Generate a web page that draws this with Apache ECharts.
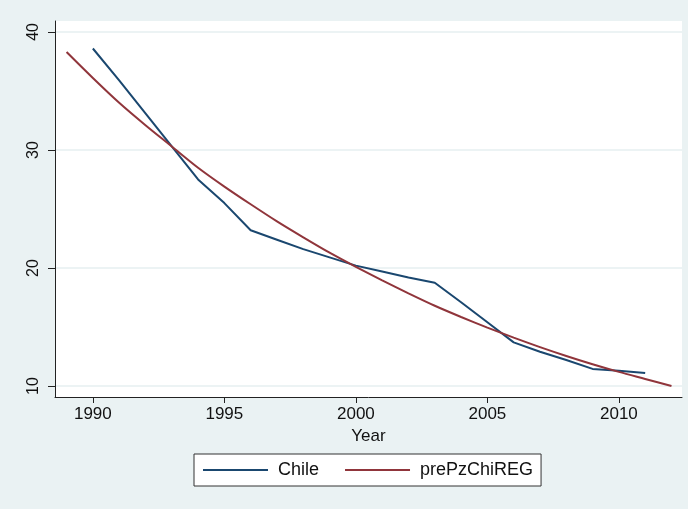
<!DOCTYPE html>
<html>
<head>
<meta charset="utf-8">
<script src="https://cdn.jsdelivr.net/npm/echarts@6/dist/echarts.min.js"></script>
<style>
html,body{margin:0;padding:0;background:#eaf2f3;}
#c{width:688px;height:509px;}
</style>
</head>
<body>
<div id="c"></div>
<script>
// Data
var chileYears = [1990,1991,1992,1993,1994,1995,1996,1997,1998,1999,2000,2001,2002,2003,2004,2005,2006,2007,2008,2009,2010,2011];
var chileValues = [38.6,35.9,33.1,30.3,27.5,25.5,23.2,22.4,21.6,20.9,20.2,19.7,19.2,18.75,17.1,15.4,13.7,12.9,12.2,11.45,11.3,11.1];
var regYears = [1989,1990,1991,1992,1993,1994,1995,1996,1997,1998,1999,2000,2001,2002,2003,2004,2005,2006,2007,2008,2009,2010,2011,2012];
var regValues = [38.3,36.1,34.0,32.1,30.3,28.5,26.9,25.4,23.95,22.6,21.3,20.1,18.95,17.85,16.8,15.85,14.95,14.1,13.3,12.55,11.85,11.2,10.6,10.0];
var xTicks = [1990,1995,2000,2005,2010];
var yTicks = [10,20,30,40];
var seriesNames = ['Chile','prePzChiREG'];
var xName = 'Year';

function pairs(xs, ys){ return xs.map(function(x,i){ return [x, ys[i]]; }); }

var font = 'Liberation Sans, Arial, sans-serif';
var chart = echarts.init(document.getElementById('c'), null, {renderer:'canvas'});
chart.setOption({
  backgroundColor: '#eaf2f3',
  animation: false,
  grid: {left:55, right:6, top:21, bottom:112, show:true, backgroundColor:'#ffffff', borderWidth:0},
  xAxis: {
    type:'value', min:1988.56, max:2012.4,
    name: xName, nameLocation:'middle', nameGap:28,
    nameTextStyle:{fontFamily:font, fontSize:17, color:'#111'},
    axisLine:{show:true, onZero:false, lineStyle:{color:'#222', width:1}},
    axisTick:{show:true, inside:false, length:6, customValues:xTicks, lineStyle:{color:'#222'}},
    axisLabel:{show:true, customValues:xTicks, margin:9, fontFamily:font, fontSize:17, color:'#111',
      formatter:function(v){ return String(v); }},
    splitLine:{show:false}
  },
  yAxis: {
    type:'value', min:9.07, max:40.93,
    axisLine:{show:true, onZero:false, lineStyle:{color:'#222', width:1}},
    axisTick:{show:true, inside:false, length:7, customValues:yTicks, lineStyle:{color:'#222'}},
    axisLabel:{show:true, customValues:yTicks, rotate:90, margin:13, fontFamily:font, fontSize:16, color:'#111',
      formatter:function(v){ return String(v); }},
    splitLine:{show:false}
  },
  legend: {
    data: seriesNames,
    left:194, top:454, width:340,
    orient:'horizontal',
    backgroundColor:'#ffffff', borderColor:'#333', borderWidth:1, borderRadius:0,
    padding:[7,8,7,9],
    itemGap:26, itemWidth:65, itemHeight:2,
    icon:'rect',
    textStyle:{fontFamily:font, fontSize:18, color:'#111', padding:[0,0,0,5]}
  },
  series: [
    {
      name: seriesNames[0], type:'line', data: pairs(chileYears, chileValues),
      symbol:'none', showSymbol:false, smooth:false,
      lineStyle:{color:'#1a476f', width:2}, itemStyle:{color:'#1a476f'},
      markLine:{
        silent:true, symbol:'none', label:{show:false},
        lineStyle:{color:'#e6eff1', width:1.5, type:'solid'},
        data: yTicks.map(function(v){ return {yAxis:v}; }),
        z:0
      },
      z:3
    },
    {
      name: seriesNames[1], type:'line', data: pairs(regYears, regValues),
      symbol:'none', showSymbol:false, smooth:0.3,
      lineStyle:{color:'#90353b', width:2}, itemStyle:{color:'#90353b'},
      z:4
    }
  ]
});
</script>
</body>
</html>
